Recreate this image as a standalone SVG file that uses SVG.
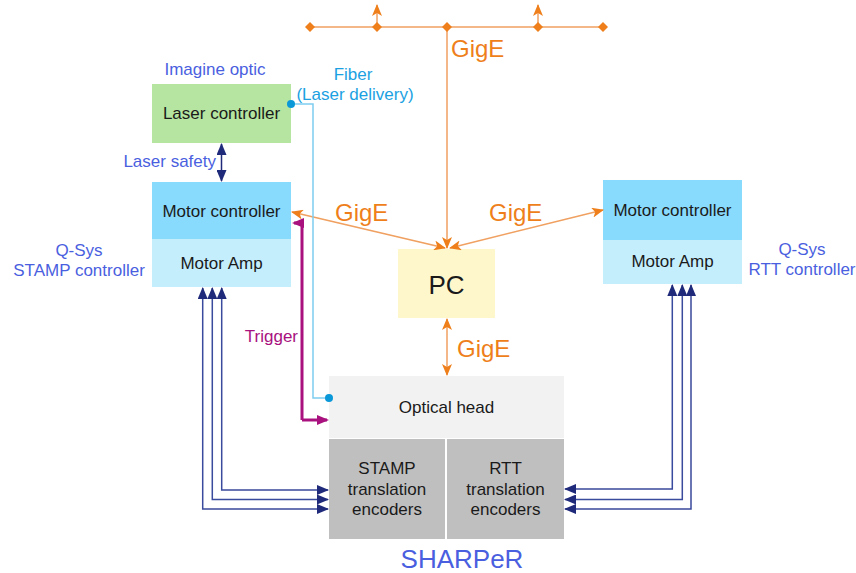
<svg xmlns="http://www.w3.org/2000/svg" width="856" height="573" viewBox="0 0 856 573">
<style>
text{font-family:"Liberation Sans",Arial,sans-serif;}
.lbl{font-size:17px;fill:#1a1a1a;text-anchor:middle;}
.blue{font-size:17px;fill:#4a5fe0;}
.fib{font-size:17px;fill:#1ba1e2;}
.gige{font-size:24px;fill:#ee7f1b;}
.eth{stroke:#f0a060;stroke-width:1.5;fill:none;}
.enc{stroke:#3a4a9c;stroke-width:1.5;fill:none;}
</style>
<defs>
<marker id="dia" markerWidth="10" markerHeight="10" refX="5" refY="5" orient="auto" markerUnits="userSpaceOnUse">
<path d="M0,5 L5,0 L10,5 L5,10 Z" fill="#ee7f1b"/>
</marker>
<marker id="oa" markerWidth="12" markerHeight="10" refX="11" refY="5" orient="auto-start-reverse" markerUnits="userSpaceOnUse">
<path d="M0,0 L12,5 L0,10 L3,5 Z" fill="#ee7f1b"/>
</marker>
<marker id="na" markerWidth="12" markerHeight="10" refX="11" refY="5" orient="auto-start-reverse" markerUnits="userSpaceOnUse">
<path d="M0,0 L12,5 L0,10 Z" fill="#1f2a7a"/>
</marker>
<marker id="ma" markerWidth="12" markerHeight="10" refX="10" refY="5" orient="auto" markerUnits="userSpaceOnUse">
<path d="M0,0 L12,5 L0,10 Z" fill="#a8117e"/>
</marker>
</defs>

<g id="laser-controller">
<rect x="152" y="84" width="139" height="59" fill="#b5e5a0"/>
<text class="lbl" x="221.5" y="119">Laser controller</text>
</g>
<g id="motor-controller-left">
<rect x="152" y="182" width="139" height="57" fill="#89dbfd"/>
<text class="lbl" x="221.5" y="217">Motor controller</text>
</g>
<g id="motor-amp-left">
<rect x="152" y="239" width="139" height="48" fill="#c5eefd"/>
<text class="lbl" x="221.5" y="269">Motor Amp</text>
</g>
<g id="motor-controller-right">
<rect x="603" y="180" width="139" height="60" fill="#89dbfd"/>
<text class="lbl" x="672.5" y="216">Motor controller</text>
</g>
<g id="motor-amp-right">
<rect x="603" y="240" width="139" height="44" fill="#c5eefd"/>
<text class="lbl" x="672.5" y="267">Motor Amp</text>
</g>
<g id="pc">
<rect x="398" y="249" width="97" height="69" fill="#fff7cc"/>
<text class="lbl" x="446.5" y="294" style="font-size:26px">PC</text>
</g>
<g id="optical-head">
<rect x="329" y="376" width="235" height="62" fill="#f2f2f2"/>
<text class="lbl" x="446.5" y="413">Optical head</text>
</g>
<g id="stamp-encoders">
<rect x="329" y="439" width="116" height="100" fill="#bfbfbf"/>
<text class="lbl" x="387" y="474">STAMP</text>
<text class="lbl" x="387" y="495">translation</text>
<text class="lbl" x="387" y="515">encoders</text>
</g>
<g id="rtt-encoders">
<rect x="447" y="439" width="117" height="100" fill="#bfbfbf"/>
<text class="lbl" x="505.5" y="474">RTT</text>
<text class="lbl" x="505.5" y="495">translation</text>
<text class="lbl" x="505.5" y="515">encoders</text>
</g>

<g id="labels">
<text class="blue" x="215" y="75" text-anchor="middle">Imagine optic</text>
<text class="fib" x="353" y="80" text-anchor="middle">Fiber</text>
<text class="fib" x="355" y="100" text-anchor="middle">(Laser delivery)</text>
<text class="blue" x="216" y="167" text-anchor="end">Laser safety</text>
<text class="blue" x="79" y="256" text-anchor="middle">Q-Sys</text>
<text class="blue" x="79" y="276" text-anchor="middle">STAMP controller</text>
<text class="blue" x="802" y="255" text-anchor="middle">Q-Sys</text>
<text class="blue" x="802" y="275" text-anchor="middle">RTT controller</text>
<text x="298" y="342" text-anchor="end" style="font-size:17px;fill:#a8117e">Trigger</text>
<text x="462" y="568" text-anchor="middle" style="font-size:26px;fill:#4a5fe0">SHARPeR</text>
<text class="gige" x="451" y="57">GigE</text>
<text class="gige" x="335" y="221">GigE</text>
<text class="gige" x="489" y="221">GigE</text>
<text class="gige" x="457" y="357">GigE</text>
</g>

<g id="connectors">
<path class="eth" d="M310,27 L603,27" marker-start="url(#dia)" marker-end="url(#dia)"/>
<path class="eth" d="M377,27 L377,5" marker-end="url(#oa)" marker-start="url(#dia)"/>
<path class="eth" d="M538,27 L538,5" marker-end="url(#oa)" marker-start="url(#dia)"/>
<path class="eth" d="M447,27 L447,248" marker-start="url(#dia)" marker-end="url(#oa)"/>
<path class="eth" d="M292,212 L445,248" marker-start="url(#oa)" marker-end="url(#oa)"/>
<path class="eth" d="M450,248 L603,210" marker-start="url(#oa)" marker-end="url(#oa)"/>
<path class="eth" d="M447,319 L447,375" marker-start="url(#oa)" marker-end="url(#oa)"/>
<path d="M221.5,144 L221.5,181" stroke="#1f2a7a" stroke-width="1.5" fill="none" marker-start="url(#na)" marker-end="url(#na)"/>
<path d="M291,104 L313,104 L313,398 L329,398" stroke="#7fcdf0" stroke-width="1.5" fill="none"/>
<circle cx="291" cy="104" r="4" fill="#0a98d8"/>
<circle cx="329" cy="398" r="4" fill="#0a98d8"/>
<path d="M302,420 L302,223 L294,223" stroke="#a8117e" stroke-width="3" fill="none" marker-end="url(#ma)"/>
<path d="M302,420 L327,420" stroke="#a8117e" stroke-width="3" fill="none" marker-end="url(#ma)"/>
<path class="enc" d="M328,490 L221.7,490 L221.7,288" marker-start="url(#na)" marker-end="url(#na)"/>
<path class="enc" d="M328,499.5 L212.3,499.5 L212.3,288" marker-start="url(#na)" marker-end="url(#na)"/>
<path class="enc" d="M328,509 L202.7,509 L202.7,288" marker-start="url(#na)" marker-end="url(#na)"/>
<path class="enc" d="M565,489 L672.3,489 L672.3,285" marker-start="url(#na)" marker-end="url(#na)"/>
<path class="enc" d="M565,499.5 L682.3,499.5 L682.3,285" marker-start="url(#na)" marker-end="url(#na)"/>
<path class="enc" d="M565,509 L691,509 L691,285" marker-start="url(#na)" marker-end="url(#na)"/>
</g>
</svg>
